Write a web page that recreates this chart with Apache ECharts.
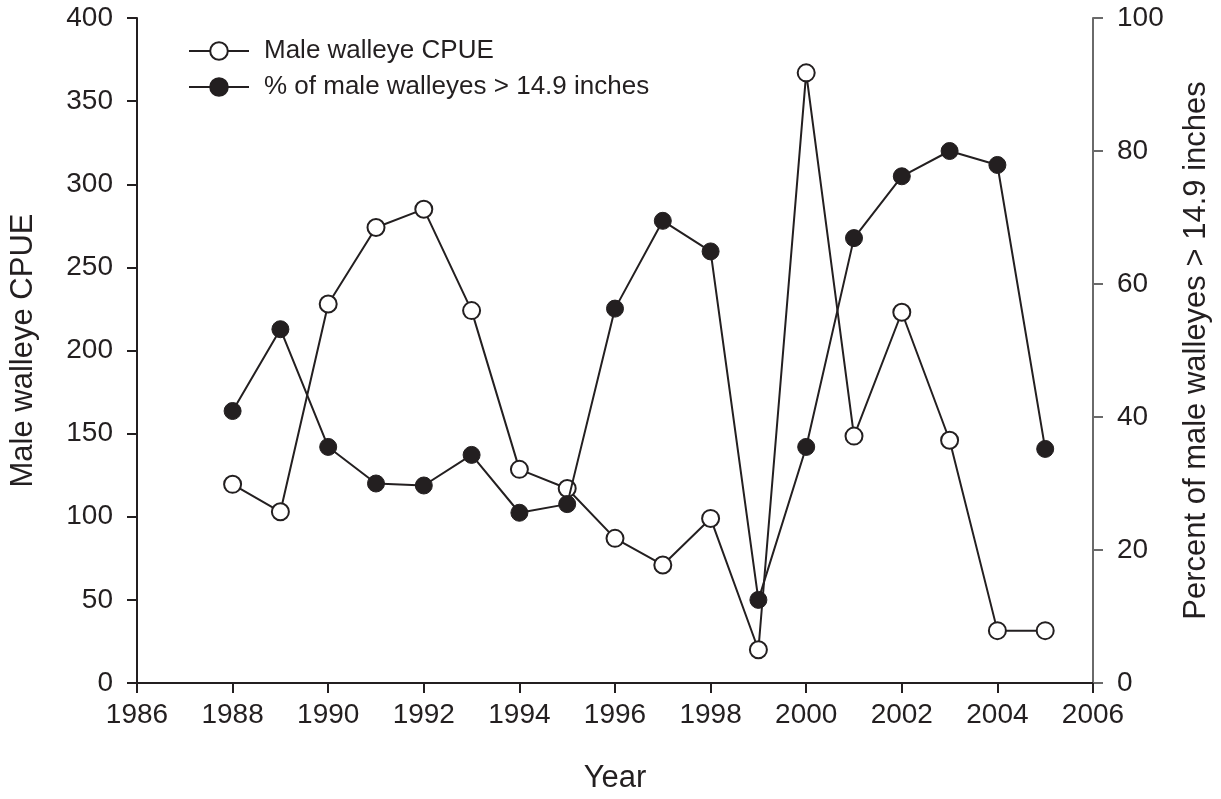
<!DOCTYPE html>
<html>
<head>
<meta charset="utf-8">
<script src="https://cdn.jsdelivr.net/npm/echarts@6/dist/echarts.min.js"></script>
<style>
  html, body { margin: 0; padding: 0; background: #fff; }
  #chart { width: 1221px; height: 799px; }
</style>
</head>
<body>
<div id="chart"></div>
<script>
// values
const years = [1988, 1989, 1990, 1991, 1992, 1993, 1994, 1995, 1996, 1997, 1998, 1999, 2000, 2001, 2002, 2003, 2004, 2005]
const cpue = [119.5, 103, 228, 274, 285, 224, 128.5, 117, 87, 71, 99, 20, 367, 148.5, 223, 146, 31.5, 31.5]
const pctLarge = [40.9, 53.2, 35.5, 30, 29.7, 34.3, 25.6, 26.9, 56.3, 69.5, 64.9, 12.5, 35.5, 66.9, 76.2, 80, 77.9, 35.2]

const ink = '#231f20'
const font = 'Liberation Sans, Arial, Helvetica, sans-serif'

const pairs = (vals) => years.map((y, i) => [y, vals[i]])

const option = {
  animation: false,
  backgroundColor: '#fff',
  textStyle: { fontFamily: font, color: ink },
  grid: { left: 133, right: 128, top: 18, bottom: 108 },
  legend: {
    orient: 'vertical',
    left: 188,
    top: 38,
    padding: 0,
    itemWidth: 60,
    itemHeight: 22,
    itemGap: 10,
    textStyle: { fontSize: 26, color: ink, fontFamily: font, padding: [0, 0, 0, 10] },
    data: ['Male walleye CPUE', '% of male walleyes > 14.9 inches'],
  },
  xAxis: {
    type: 'value',
    min: 1986,
    max: 2006,
    interval: 2,
    name: 'Year',
    nameLocation: 'middle',
    nameGap: 80,
    nameTextStyle: { fontSize: 31, color: ink, fontFamily: font },
    axisLine: { lineStyle: { color: ink, width: 2 } },
    axisTick: { inside: false, length: 10, lineStyle: { color: ink, width: 2 } },
    axisLabel: { fontSize: 28, color: ink, margin: 18, fontFamily: font, formatter: (v) => String(v) },
    splitLine: { show: false },
  },
  yAxis: [
    {
      type: 'value',
      min: 0,
      max: 400,
      interval: 50,
      name: 'Male walleye CPUE',
      nameLocation: 'middle',
      nameGap: 98,
      nameTextStyle: { fontSize: 31, color: ink, fontFamily: font },
      axisLine: { show: true, lineStyle: { color: ink, width: 2 } },
      axisTick: { show: true, length: 10, lineStyle: { color: ink, width: 2 } },
      axisLabel: { fontSize: 28, color: ink, margin: 24, fontFamily: font },
      splitLine: { show: false },
    },
    {
      type: 'value',
      min: 0,
      max: 100,
      interval: 20,
      position: 'right',
      name: 'Percent of male walleyes > 14.9 inches',
      nameLocation: 'middle',
      nameGap: 88,
      nameRotate: 90,
      nameTextStyle: { fontSize: 31, color: ink, fontFamily: font },
      axisLine: { show: true, lineStyle: { color: '#6a6a6a', width: 2 } },
      axisTick: { show: true, length: 10, lineStyle: { color: '#6a6a6a', width: 2 } },
      axisLabel: { fontSize: 28, color: ink, margin: 24, fontFamily: font },
      splitLine: { show: false },
    },
  ],
  series: [
    {
      name: 'Male walleye CPUE',
      type: 'line',
      yAxisIndex: 0,
      data: pairs(cpue),
      symbol: 'circle',
      symbolSize: 17,
      lineStyle: { color: ink, width: 2 },
      itemStyle: { color: '#fff', borderColor: ink, borderWidth: 2 },
      z: 2,
    },
    {
      name: '% of male walleyes > 14.9 inches',
      type: 'line',
      yAxisIndex: 1,
      data: pairs(pctLarge),
      symbol: 'circle',
      symbolSize: 17,
      lineStyle: { color: ink, width: 2 },
      itemStyle: { color: ink, borderColor: ink, borderWidth: 1 },
      z: 3,
    },
  ],
}

const chart = echarts.init(document.getElementById('chart'))
chart.setOption(option)
</script>
</body>
</html>
